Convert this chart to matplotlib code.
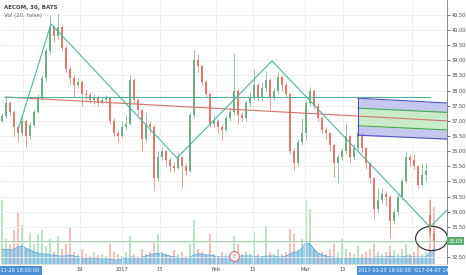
import numpy as np
import matplotlib.pyplot as plt
from matplotlib.patches import Ellipse, Rectangle
import matplotlib.transforms as mtransforms

# AECOM 30-min candles (one candle per ~4 px)
closes = [37.15, 37.6, 37.3, 36.8, 36.6, 37.0, 36.5, 36.85, 37.3, 37.8,
          38.4, 39.3, 40.1, 39.8, 40.1, 39.4, 38.7, 38.4, 38.2, 38.3,
          37.9, 37.85, 37.7, 37.75, 37.6, 37.7, 37.75, 37.0, 36.6, 36.5,
          36.8, 36.9, 38.35, 37.7, 37.35, 36.4, 36.9, 36.8, 35.1, 35.8,
          36.0, 35.7, 35.5, 35.45, 35.8, 35.5, 35.35, 37.2, 39.0, 38.8,
          38.3, 37.9, 36.9, 37.0, 36.8, 36.7, 37.1, 37.3, 38.0, 37.2,
          37.1, 37.6, 37.8, 38.2, 37.8, 38.1, 38.35, 37.8, 38.0, 38.45,
          38.2, 37.9, 36.0, 35.6, 36.3, 36.6, 37.6, 38.0, 37.5, 37.1,
          36.7, 36.6, 36.2, 35.6, 35.8, 36.0, 36.5, 35.8, 36.1, 36.6,
          36.1, 35.6, 35.1, 34.1, 34.4, 34.6, 34.5, 33.7, 34.0, 34.5,
          35.0, 35.8, 35.7, 35.5, 34.9, 35.2, 35.35, 33.3, 33.03]
highs = [37.25, 37.8, 37.65, 37.35, 36.85, 37.15, 37.05, 36.95, 37.4, 37.9,
         38.5, 39.4, 40.5, 40.15, 40.55, 40.15, 39.5, 38.8, 38.5, 38.45,
         38.35, 38.05, 37.95, 37.9, 37.85, 37.8, 37.85, 37.8, 37.1, 36.7,
         37.0, 37.2, 38.5, 38.4, 37.75, 37.4, 37.3, 37.0, 36.85, 36.0,
         36.15, 36.05, 35.8, 35.65, 35.95, 35.85, 35.6, 37.3, 39.34, 39.2,
         38.85, 38.35, 37.95, 37.2, 37.05, 36.9, 37.2, 37.45, 39.23, 38.05,
         37.3, 37.7, 37.95, 38.7, 38.25, 38.3, 38.65, 38.4, 38.1, 38.6,
         38.5, 38.3, 37.95, 36.1, 36.4, 37.1, 37.7, 38.12, 38.05, 37.6,
         37.15, 36.8, 36.65, 36.25, 35.9, 36.1, 36.93, 36.55, 36.25, 36.8,
         36.65, 36.15, 35.65, 35.15, 34.8, 34.8, 34.7, 34.55, 34.1, 34.6,
         35.1, 35.97, 35.9, 35.9, 35.55, 35.6, 35.6, 34.42, 33.45]
lows = [36.95, 37.1, 37.2, 36.5, 36.3, 36.55, 36.15, 36.4, 36.8, 37.25,
        37.7, 38.3, 39.2, 39.6, 39.7, 39.3, 38.6, 38.2, 37.8, 38.1,
        37.5, 37.7, 37.6, 37.55, 37.5, 37.55, 37.6, 36.9, 36.5, 36.3,
        36.45, 36.7, 36.85, 37.6, 37.2, 36.0, 36.3, 36.6, 34.7, 35.0,
        35.7, 35.5, 35.3, 35.3, 35.4, 34.8, 35.2, 35.3, 37.1, 38.6,
        38.2, 37.8, 36.8, 36.8, 36.6, 36.37, 36.65, 37.0, 37.2, 36.9,
        36.95, 37.0, 37.5, 37.7, 37.7, 37.7, 38.0, 37.36, 37.7, 37.9,
        38.0, 37.8, 35.9, 35.38, 35.5, 36.2, 36.37, 37.5, 37.4, 37.0,
        36.6, 36.4, 36.0, 35.15, 34.95, 35.7, 35.9, 35.6, 35.7, 36.0,
        35.95, 35.4, 34.95, 33.75, 34.0, 34.3, 34.2, 33.13, 33.6, 33.9,
        34.4, 34.95, 35.5, 35.4, 34.8, 34.85, 35.0, 33.2, 32.8]
opens = [37.0] + closes[:-1]
opens[107] = 33.9  # gap down on the last day

# volume (thousands) and its 20-period average
volumes = [640, 250, 200, 340, 510, 390, 150, 310, 200, 300,
           340, 180, 250, 120, 280, 150, 200, 370, 120, 100,
           150, 100, 80, 120, 90, 100, 80, 200, 120, 100,
           80, 120, 280, 100, 80, 150, 100, 120, 220, 300,
           120, 100, 80, 140, 100, 120, 80, 200, 440, 150,
           120, 100, 300, 100, 80, 120, 100, 100, 280, 200,
           100, 120, 100, 320, 100, 80, 380, 120, 100, 150,
           100, 120, 350, 300, 150, 250, 640, 550, 150, 100,
           120, 100, 150, 200, 120, 250, 150, 120, 100, 180,
           100, 120, 150, 200, 120, 100, 120, 180, 140, 100,
           150, 200, 100, 120, 180, 100, 120, 640, 570]
vol_ma = [140, 150, 140, 150, 170, 180, 160, 140, 120, 110,
          100, 100, 90, 90, 80, 80, 80, 90, 80, 70,
          70, 60, 60, 60, 50, 50, 50, 50, 40, 40,
          50, 60, 70, 70, 60, 70, 80, 90, 100, 110,
          100, 90, 80, 70, 70, 60, 60, 70, 90, 100,
          100, 90, 90, 80, 70, 70, 70, 70, 80, 80,
          80, 80, 80, 80, 70, 70, 80, 80, 80, 70,
          70, 80, 100, 120, 120, 160, 220, 200, 150, 110,
          90, 80, 70, 70, 60, 60, 60, 60, 60, 60,
          60, 60, 60, 70, 70, 70, 70, 80, 70, 70,
          70, 80, 80, 70, 70, 70, 70, 120, 150]

# drawings (x = candle index, y = price)
zigzag_x = [4.25, 12.25, 43.75, 67.5, 107, 113]
zigzag_y = [36.8, 40.2, 35.78, 38.98, 33.5, 34.29]
hline_x = [0.75, 107]
hline_y = [37.78, 37.78]
trend_x = [0.75, 111.25]
trend_y = [37.79, 37.0]
chan_x = [89, 111.25]
chan_top = [37.75, 37.59]
chan_up = [37.42, 37.28]
chan_mid = [37.15, 37.0]
chan_lo = [36.84, 36.70]
chan_bot = [36.53, 36.40]

tick_pos = [5.25, 19.5, 30, 39.5, 53.5, 62.75, 75.75, 85.25, 102.5]
tick_lab = ['', '19', '2017', '13', 'Feb', '13', 'Mar', '13', '']
last_price = 33.03

up_col, dn_col = '#6fae86', '#e07a70'
teal = '#4fb5a0'

W, H = 466, 275
fig = plt.figure(figsize=(W / 100, H / 100), dpi=100)
ax = fig.add_axes([0, 11 / H, 447 / W, 264 / H])
axv = ax.twinx()
ax.set_zorder(2)
axv.set_zorder(1)
ax.patch.set_visible(False)

x = np.arange(len(closes))
o = np.array(opens)
c = np.array(closes)
up = c >= o
cols = np.where(up, up_col, dn_col)

# volume pane
vcols = np.where(up, '#9fd6ae', '#efa6a6')
axv.bar(x, volumes, width=0.35, color=vcols, alpha=0.7)
axv.fill_between(x, vol_ma, color='#5dade2', alpha=0.55, lw=0)
axv.plot(x, vol_ma, color='#3d9ad8', lw=0.5)
axv.set_ylim(0, 2640)
axv.axis('off')

# candles
ax.vlines(x, lows, highs, color=cols, lw=0.5)
body = np.maximum(np.abs(c - o), 0.02)
ax.bar(x, body, bottom=np.minimum(o, c), width=0.45, color=cols, lw=0)

# channel
ax.fill_between(chan_x, chan_up, chan_top, color='#c6c7ef', lw=0)
ax.fill_between(chan_x, chan_bot, chan_lo, color='#c6c7ef', lw=0)
ax.fill_between(chan_x, chan_lo, chan_up, color='#c9ebc9', lw=0)
ax.plot(chan_x, chan_top, color='#5050c8', lw=0.8)
ax.plot(chan_x, chan_bot, color='#5050c8', lw=0.8)
ax.plot(chan_x, chan_up, color='#45a84a', lw=0.8)
ax.plot(chan_x, chan_lo, color='#45a84a', lw=0.8)
ax.plot([chan_x[0], chan_x[0]], [chan_bot[0], chan_top[0]], color='#5050c8', lw=0.8)

# lines
ax.plot(trend_x, trend_y, color='#d4736b', lw=0.8)
ax.plot(hline_x, hline_y, color=teal, lw=0.8)
ax.plot(zigzag_x, zigzag_y, color=teal, lw=0.8)
ax.axhline(last_price, color='#8fd0a4', lw=0.6)

ax.add_patch(Ellipse((107.4, 33.12), 8, 0.8, fill=False, ec='#222222', lw=0.8))
ax.plot([58], [32.54], 'o', mfc='white', mec='#e0556a', ms=7, mew=0.7, clip_on=False)
ax.text(58, 32.54, 'E', color='#e0556a', fontsize=3.6, ha='center', va='center')

ax.set_xlim(-0.5, 111.25)
ax.set_ylim(32.277, 40.99)

ax.yaxis.tick_right()
yt = np.arange(32.5, 40.51, 0.5)
ax.set_yticks(yt)
# 33.00 is hidden under the last-price tag
ax.set_yticklabels(['' if abs(v - 33.0) < 1e-6 else f'{v:.2f}' for v in yt])
ax.set_xticks(tick_pos)
ax.set_xticklabels(tick_lab)
ax.tick_params(axis='y', labelsize=3.6, colors='#444444', length=2, width=0.5, pad=1.5)
ax.tick_params(axis='x', labelsize=3.6, colors='#444444', length=0, pad=2)
ax.grid(True, color='#eeeeee', lw=0.6)
ax.set_axisbelow(True)
for s in ['top', 'left']:
    ax.spines[s].set_visible(False)
ax.spines['right'].set_color('#777777')
ax.spines['right'].set_linewidth(0.6)
ax.spines['bottom'].set_color('#dddddd')
ax.spines['bottom'].set_linewidth(0.5)

# last price tag
tr = mtransforms.blended_transform_factory(ax.transAxes, ax.transData)
ax.text(1.003, last_price, f'{last_price:.2f}', transform=tr, fontsize=3.6, color='white',
        va='center', ha='left', clip_on=False, zorder=10,
        bbox=dict(boxstyle='square,pad=0.35', fc='#5aae6e', ec='none'))

# header
fig.text(4 / W, 1 - 8 / H, 'AECOM, 30, BATS', fontsize=4, fontweight='bold', color='#444444', va='center')
fig.text(4 / W, 1 - 16 / H, 'Vol (20, false)', fontsize=4, color='#666666', va='center')

# selected-range date tags
box = dict(boxstyle='square,pad=0.4', fc='#4a8fd8', ec='none')
fig.text(13 / W, 1 - 270 / H, '2016-11-28 18:00:00', fontsize=3.6, color='white', ha='center', va='center', bbox=box)
fig.text(434 / W, 1 - 270 / H, '2017-04-07 14:30', fontsize=3.6, color='white', ha='center', va='center', bbox=box)
fig.text(385 / W, 1 - 270 / H, '2017-03-23 19:00:00', fontsize=3.6, color='white', ha='center', va='center', bbox=box)
fig.patches.append(Rectangle((447.5 / W, 0), 19 / W, 10.5 / H, transform=fig.transFigure,
                             fc='white', ec='none', zorder=20))

fig.savefig('out.png', dpi=100)
